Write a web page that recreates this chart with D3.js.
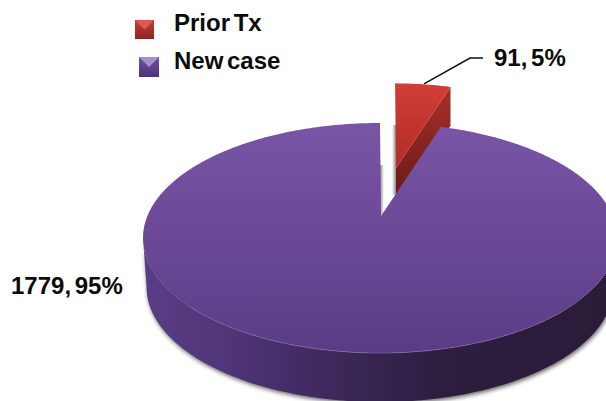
<!DOCTYPE html>
<html>
<head>
<meta charset="utf-8">
<script src="https://cdn.jsdelivr.net/npm/d3@7"></script>
<style>
html, body { margin: 0; padding: 0; background: #fff; }
svg { display: block; }
text { font-family: "Liberation Sans", Arial, sans-serif; font-weight: bold; font-size: 24px; fill: #0c0c0c; word-spacing: -3px; }
</style>
</head>
<body>
<script>
//chart data
var categories = ["Prior Tx", "New case"];
var counts = [91, 1779];
var percents = [5, 95];

var width = 606,
    height = 401;

//top face ellipse and the tilted centre of the pie
var cx = 380, cy = 238, rx = 237, ry = 115;
var apexX = 381, apexY = 216;
var depth = 49;

var svg = d3.select("body").append("svg")
    .attr("width", width)
    .attr("height", height);

var defs = svg.append("defs");

function gradient(id, x2, y2, stops){
    var g = defs.append("linearGradient")
        .attr("id", id)
        .attr("x1", 0).attr("y1", 0)
        .attr("x2", x2).attr("y2", y2);
    stops.forEach(function(s){
        g.append("stop").attr("offset", s[0]).attr("stop-color", s[1]);
    });
}
gradient("faceNew", 0, 1, [[0, "#7a55a6"], [1, "#5a3c86"]]);
gradient("sideNew", 1, 0, [[0, "#5a3d85"], [0.18, "#4f3579"], [0.35, "#412b62"], [0.5, "#35244e"], [0.62, "#2d1e40"], [1, "#2a1b38"]]);
gradient("faceOld", 0, 1, [[0, "#d23e36"], [1, "#b02c28"]]);
gradient("wallOld", 0, 1, [[0, "#a92f2a"], [1, "#6d1917"]]);
gradient("cutShadow", 1, 0, [[0, "#ffffff"], [1, "#8a8a8a"]]);
gradient("cutShadow2", 1, 0, [[0, "#8a8a8a"], [1, "#ffffff"]]);
gradient("keyOld", 0, 1, [[0, "#c93c34"], [1, "#8e2320"]]);
gradient("keyNew", 0, 1, [[0, "#7450a4"], [1, "#4b3376"]]);

defs.append("filter").attr("id", "soft")
    .attr("x", "-10%").attr("y", "-10%").attr("width", "120%").attr("height", "120%")
    .append("feGaussianBlur").attr("stdDeviation", 2);

//slice angles come from the counts
var pie = d3.pie().sort(null).value(function(d){ return d; });
var arcs = pie(counts);

//foreshortening of the far side of the tilted pie
function warp(a){
    return a - 0.08 * Math.sin(2 * a);
}

function rim(a){
    return [cx + rx * Math.sin(a), cy - ry * Math.cos(a)];
}

function sweep(a0, a1, step){
    var n = Math.ceil(Math.abs(a1 - a0) / step);
    return d3.range(n + 1).map(function(i){ return a0 + (a1 - a0) * i / n; });
}

var line = d3.line();
var oldArc = arcs[0], newArc = arcs[1];

//exploded slice: scaled about the apex and moved up and to the right
var oldK = 0.91, oldDx = 15, oldDy = -48;
function oldPoint(p){
    return [apexX + oldDx + oldK * (p[0] - apexX), apexY + oldDy + oldK * (p[1] - apexY)];
}
var oldApex = [apexX + oldDx, apexY + oldDy];
var oldRim = sweep(warp(oldArc.startAngle), warp(oldArc.endAngle), 0.02).map(rim).map(oldPoint);
var oldEnd = oldRim[oldRim.length - 1];

//soft grey shadow on the left of the exploded slice
svg.append("rect")
    .attr("x", oldApex[0] - 4).attr("y", apexY - 91)
    .attr("width", 4).attr("height", 70)
    .attr("fill", "url(#cutShadow)");

//inner wall of the exploded slice
svg.append("path")
    .attr("d", line([oldApex, oldEnd, [oldEnd[0], oldEnd[1] + 39], [oldApex[0], oldApex[1] + 27]]) + "Z")
    .attr("fill", "url(#wallOld)");

//top of the exploded slice
svg.append("path")
    .attr("d", line([oldApex].concat(oldRim)) + "Z")
    .attr("fill", "url(#faceOld)");

//side of the big slice, front half only
var front = sweep(Math.PI / 2, 3 * Math.PI / 2, 0.02).map(rim);
var frontLow = front.map(function(p){
    return [cx + (p[0] - cx) * 0.985, p[1] + depth];
}).reverse();
var sideD = line(front.concat(frontLow)) + "Z";

svg.append("path")
    .attr("d", sideD)
    .attr("transform", "translate(1,2)")
    .attr("fill", "#666")
    .attr("filter", "url(#soft)");

svg.append("path")
    .attr("d", sideD)
    .attr("fill", "url(#sideNew)");

//shadow on the cut wall of the big slice
svg.append("rect")
    .attr("x", apexX - 1).attr("y", apexY - 51)
    .attr("width", 4).attr("height", 50)
    .attr("fill", "url(#cutShadow2)");

//top of the big slice
var newRim = sweep(warp(newArc.startAngle), warp(newArc.endAngle), 0.01).map(rim);
svg.append("path")
    .attr("d", line([[apexX, apexY]].concat(newRim)) + "Z")
    .attr("fill", "url(#faceNew)");

//light edge where the top meets the side
svg.append("path")
    .attr("d", line(sweep(Math.PI * 0.72, Math.PI * 1.3, 0.02).map(rim)))
    .attr("fill", "none")
    .attr("stroke", "#8468ae")
    .attr("stroke-opacity", 0.6);

//leader line for the small slice
svg.append("path")
    .attr("d", line([[oldApex[0] + 28, oldEnd[1] - 3], [470, 58], [483, 58]]))
    .attr("fill", "none")
    .attr("stroke", "#111")
    .attr("stroke-width", 1.6);

//value labels
function labelText(i){
    return counts[i] + ", " + percents[i] + "%";
}
svg.append("text").attr("x", 494).attr("y", 66).text(labelText(0));
svg.append("text").attr("x", 11).attr("y", 294).text(labelText(1));

//legend
var keyX = [135, 139], keyY = [20, 57], keyS = [19, 20], textY = [31, 69];
var keyFill = ["url(#keyOld)", "url(#keyNew)"], keyTop = ["#d95a52", "#a78fcb"];

var legend = svg.selectAll(".key")
    .data(categories)
    .enter()
    .append("g")
    .attr("class", "key");

legend.append("rect")
    .attr("x", function(d, i){ return keyX[i]; })
    .attr("y", function(d, i){ return keyY[i]; })
    .attr("width", function(d, i){ return keyS[i]; })
    .attr("height", function(d, i){ return keyS[i]; })
    .attr("fill", function(d, i){ return keyFill[i]; });

legend.append("path")
    .attr("d", function(d, i){
        var s = keyS[i];
        return line([[keyX[i], keyY[i]], [keyX[i] + s, keyY[i]], [keyX[i] + s / 2, keyY[i] + s / 2]]) + "Z";
    })
    .attr("fill", function(d, i){ return keyTop[i]; });

legend.append("text")
    .attr("x", 174)
    .attr("y", function(d, i){ return textY[i]; })
    .text(function(d){ return d; });
</script>
</body>
</html>
